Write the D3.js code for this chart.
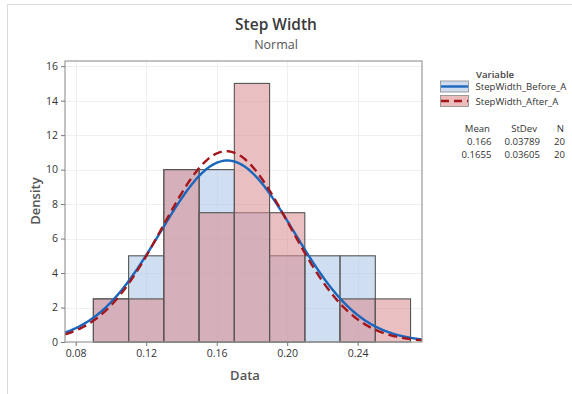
<!DOCTYPE html>
<html>
<head>
<meta charset="utf-8">
<script src="https://cdn.jsdelivr.net/npm/d3@7"></script>
<style>
  body { margin: 0; background: #fff; }
  svg { font-family: "Open Sans", "Noto Sans", sans-serif; }
</style>
</head>
<body>
<svg id="chart" width="572" height="394"></svg>
<script>
// Histogram bins (lower edges, width 0.02) and densities for each variable
const binEdges = [0.09, 0.11, 0.13, 0.15, 0.17, 0.19, 0.21, 0.23, 0.25];
const binWidth = 0.02;
const beforeDensity = [2.5, 5, 10, 10, 7.5, 5, 5, 5, 0];
const afterDensity  = [2.5, 2.5, 10, 7.5, 15, 7.5, 0, 2.5, 2.5];

const seriesNames = ["StepWidth_Before_A", "StepWidth_After_A"];
const means  = [0.166, 0.1655];
const stdevs = [0.03789, 0.03605];
const counts = [20, 20];
const meanLabels  = ["0.166", "0.1655"];
const stdevLabels = ["0.03789", "0.03605"];

const xTicks = [0.08, 0.12, 0.16, 0.20, 0.24];
const yTicks = [0, 2, 4, 6, 8, 10, 12, 14, 16];

const svg = d3.select("#chart");
const plot = { left: 65, right: 422, top: 61, bottom: 342 };

const x = d3.scaleLinear().domain([0.0739, 0.2765]).range([plot.left, plot.right]);
const y = d3.scaleLinear().domain([0, 16.3]).range([plot.bottom, plot.top]);

// outer panel edges
svg.append("line").attr("x1", 7).attr("x2", 572).attr("y1", 4.5).attr("y2", 4.5)
  .attr("stroke", "#d9d9d9");
svg.append("line").attr("x1", 7.5).attr("x2", 7.5).attr("y1", 4).attr("y2", 394)
  .attr("stroke", "#d9d9d9");

// titles
svg.append("text").attr("x", 276).attr("y", 30).attr("text-anchor", "middle")
  .attr("font-size", 15.5).attr("font-weight", 600).attr("fill", "#3a3a3a").text("Step Width");
svg.append("text").attr("x", 276).attr("y", 49).attr("text-anchor", "middle")
  .attr("font-size", 12.5).attr("fill", "#555").text("Normal");

// gridlines
const grid = svg.append("g").attr("stroke", "#efefef").attr("stroke-width", 1);
yTicks.filter(d => d > 0).forEach(t => {
  grid.append("line").attr("x1", plot.left).attr("x2", plot.right)
    .attr("y1", Math.round(y(t)) + 0.5).attr("y2", Math.round(y(t)) + 0.5);
});
xTicks.forEach(t => {
  grid.append("line").attr("y1", plot.top).attr("y2", plot.bottom)
    .attr("x1", Math.round(x(t)) + 0.5).attr("x2", Math.round(x(t)) + 0.5);
});

// histogram bars
function drawBars(values, fill) {
  svg.append("g").selectAll("rect")
    .data(binEdges.map((e, i) => ({ x0: e, v: values[i] })).filter(d => d.v > 0))
    .join("rect")
    .attr("x", d => x(d.x0))
    .attr("width", d => x(d.x0 + binWidth) - x(d.x0))
    .attr("y", d => y(d.v))
    .attr("height", d => y(0) - y(d.v))
    .attr("fill", fill)
    .attr("fill-opacity", 0.55)
    .attr("stroke", "#555")
    .attr("stroke-width", 1.1);
}
drawBars(beforeDensity, "#a9c2e6");
drawBars(afterDensity, "#d98a8e");

// fitted normal curves
function normalPdf(v, m, s) {
  return Math.exp(-0.5 * ((v - m) / s) ** 2) / (s * Math.sqrt(2 * Math.PI));
}
const xs = d3.range(0.0739, 0.27651, 0.0005);
const line = d3.line().x(d => x(d[0])).y(d => y(d[1])).curve(d3.curveBasis);
svg.append("path")
  .datum(xs.map(v => [v, normalPdf(v, means[0], stdevs[0])]))
  .attr("d", line).attr("fill", "none").attr("stroke", "#1a66bd").attr("stroke-width", 2.4);
svg.append("path")
  .datum(xs.map(v => [v, normalPdf(v, means[1], stdevs[1])]))
  .attr("d", line).attr("fill", "none").attr("stroke", "#a3171c").attr("stroke-width", 2.4)
  .attr("stroke-dasharray", "9,5");

// plot frame
svg.append("rect").attr("x", plot.left).attr("y", plot.top)
  .attr("width", plot.right - plot.left).attr("height", plot.bottom - plot.top)
  .attr("fill", "none").attr("stroke", "#9a9a9a").attr("stroke-width", 1.2);

// axes
const xAxis = d3.axisBottom(x).tickValues(xTicks).tickFormat(d3.format(".2f")).tickSize(4).tickPadding(4);
const yAxis = d3.axisLeft(y).tickValues(yTicks).tickFormat(d3.format("d")).tickSize(4).tickPadding(3);
const gx = svg.append("g").attr("transform", `translate(0,${plot.bottom})`).call(xAxis);
const gy = svg.append("g").attr("transform", `translate(${plot.left},0)`).call(yAxis);
[gx, gy].forEach(g => {
  g.select(".domain").remove();
  g.selectAll(".tick line").attr("stroke", "#777");
  g.selectAll(".tick text").attr("fill", "#333").attr("font-size", 10.5)
    .attr("font-family", "'Open Sans', sans-serif");
});

// axis titles
svg.append("text").attr("x", 245).attr("y", 380).attr("text-anchor", "middle")
  .attr("font-size", 13).attr("font-weight", 600).attr("fill", "#555").text("Data");
svg.append("text").attr("transform", "translate(40,201) rotate(-90)").attr("text-anchor", "middle")
  .attr("font-size", 13).attr("font-weight", 600).attr("fill", "#555").text("Density");

// legend
const lg = svg.append("g").attr("font-size", 9.6).attr("fill", "#333");
lg.append("text").attr("x", 476).attr("y", 77.5).attr("fill", "#444")
  .attr("font-weight", 600).text("Variable");
const swatches = [
  { fill: "#cfdcf0", stroke: "#1a66bd", dash: null, y: 81 },
  { fill: "#ebbdbd", stroke: "#a3171c", dash: "8,5", y: 95.5 }
];
swatches.forEach((s, i) => {
  lg.append("rect").attr("x", 440.5).attr("y", s.y).attr("width", 28).attr("height", 11)
    .attr("fill", s.fill).attr("stroke", "#888").attr("stroke-width", 0.8);
  lg.append("line").attr("x1", 441).attr("x2", 468).attr("y1", s.y + 5.5).attr("y2", s.y + 5.5)
    .attr("stroke", s.stroke).attr("stroke-width", 2.4).attr("stroke-dasharray", s.dash);
  lg.append("text").attr("x", 475.5).attr("y", s.y + 9).text(seriesNames[i]);
});

// summary statistics table
const st = svg.append("g").attr("font-size", 9.6).attr("fill", "#333");
st.append("text").attr("x", 490).attr("y", 131.5).attr("text-anchor", "end").text("Mean");
st.append("text").attr("x", 537).attr("y", 131.5).attr("text-anchor", "end").text("StDev");
st.append("text").attr("x", 564).attr("y", 131.5).attr("text-anchor", "end").text("N");
[0, 1].forEach(i => {
  const yy = 145 + i * 13;
  st.append("text").attr("x", 491.5).attr("y", yy).attr("text-anchor", "end").text(meanLabels[i]);
  st.append("text").attr("x", 540).attr("y", yy).attr("text-anchor", "end").text(stdevLabels[i]);
  st.append("text").attr("x", 565).attr("y", yy).attr("text-anchor", "end").text(counts[i]);
});
</script>
</body>
</html>
